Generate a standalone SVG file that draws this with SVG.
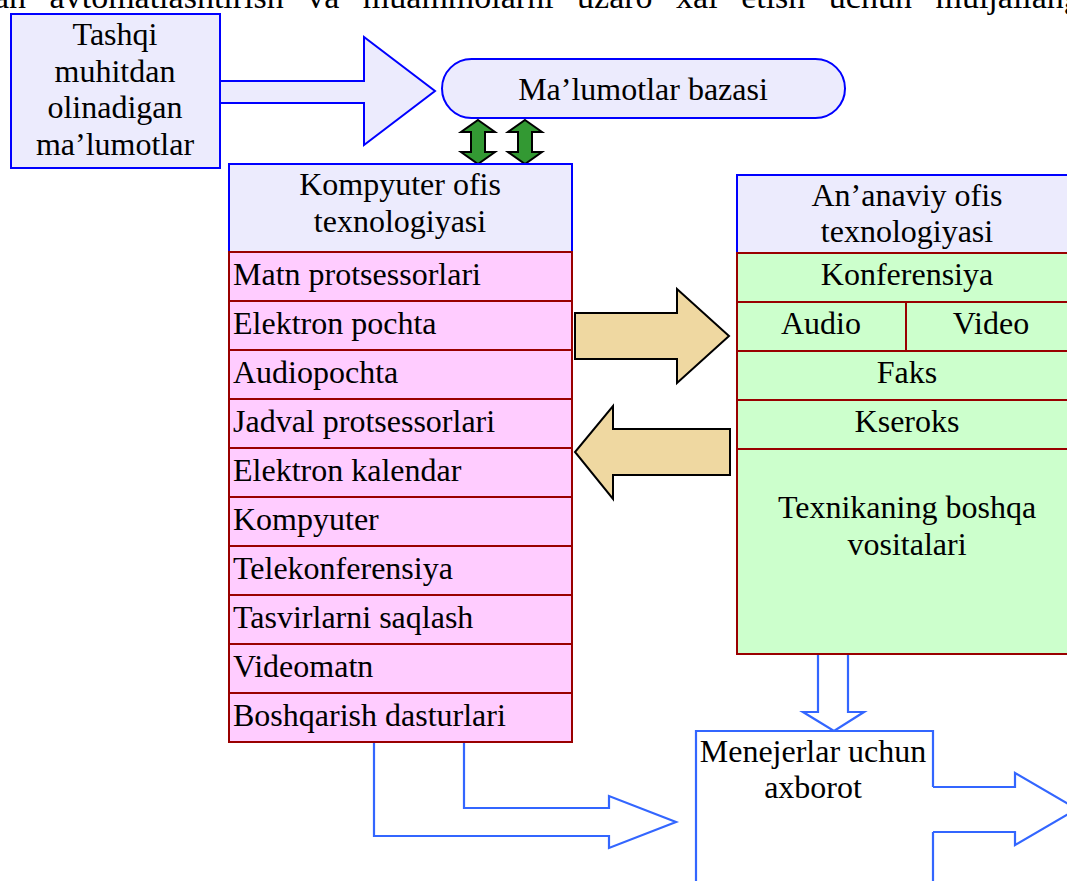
<svg xmlns="http://www.w3.org/2000/svg" width="1067" height="881" viewBox="0 0 1067 881">
  <style>
    text { font-family: "Liberation Serif", "Times New Roman", serif; font-size: 32px; fill: #000; }
    .c { text-anchor: middle; }
    .lav { fill: #ecebfd; stroke: #0000ff; stroke-width: 2; }
    .pink { fill: #ffccff; stroke: #990000; stroke-width: 2; }
    .grn { fill: #ccffcc; stroke: #990000; stroke-width: 2; }
    .blue { fill: #ffffff; stroke: #3366ff; stroke-width: 2.2; }
    .dbl { fill: #339933; stroke: #000; stroke-width: 2; stroke-linejoin: miter; }
    .tan { fill: #efd8a1; stroke: #000; stroke-width: 2; }
  </style>

  <!-- justified paragraph line running off the top edge -->
  <text x="-6" y="8" style="font-size:34px; word-spacing:15px">an avtomatlashtirish va muammolarni uzaro xal etish uchun muljallangan</text>

  <!-- connectors -->
  <g id="connectors">
    <path class="lav" d="M220,81 H364 V37 L435,91 L364,145 V103 H220"/>
    <polygon class="dbl" points="478,120 495,132 485,132 485,152 495,152 478,164 461,152 471,152 471,132 461,132"/>
    <polygon class="dbl" points="525,120 542,132 532,132 532,152 542,152 525,164 508,152 518,152 518,132 508,132"/>
    <polygon class="tan" points="575,313 677,313 677,289 729,336 677,383 677,359 575,359"/>
    <polygon class="tan" points="730,429 613,429 613,406 575,452 613,499 613,475 730,475"/>
    <polygon class="blue" points="374,742 374,836 609,836 609,848 676,822 609,796 609,808 464,808 464,742"/>
    <polygon class="blue" points="818,653 818,712 803,712 834,731 864,712 848,712 848,653"/>
    <path class="blue" d="M933,787 H1015 V773 L1077,809 L1015,845 V832 H933"/>
  </g>

  <!-- external data source -->
  <g id="tashqi">
    <rect class="lav" x="11" y="14" width="209" height="154"/>
    <text class="c" x="115" y="45">Tashqi</text>
    <text class="c" x="115" y="82">muhitdan</text>
    <text class="c" x="115" y="118">olinadigan</text>
    <text class="c" x="115" y="155">ma’lumotlar</text>
  </g>

  <!-- database -->
  <g id="baza">
    <rect class="lav" x="442" y="59" width="403" height="59" rx="29.5" ry="29.5"/>
    <text class="c" x="643" y="100">Ma’lumotlar bazasi</text>
  </g>

  <!-- computer office technology column -->
  <g id="kompyuter-ofis">
    <rect class="lav" x="229" y="164" width="343" height="88"/>
    <text class="c" x="400" y="195">Kompyuter ofis</text>
    <text class="c" x="400" y="232">texnologiyasi</text>
    <rect class="pink" x="229" y="252" width="343" height="49"/>
    <rect class="pink" x="229" y="301" width="343" height="49"/>
    <rect class="pink" x="229" y="350" width="343" height="49"/>
    <rect class="pink" x="229" y="399" width="343" height="49"/>
    <rect class="pink" x="229" y="448" width="343" height="49"/>
    <rect class="pink" x="229" y="497" width="343" height="49"/>
    <rect class="pink" x="229" y="546" width="343" height="49"/>
    <rect class="pink" x="229" y="595" width="343" height="49"/>
    <rect class="pink" x="229" y="644" width="343" height="49"/>
    <rect class="pink" x="229" y="693" width="343" height="49"/>
    <text x="233" y="285">Matn protsessorlari</text>
    <text x="233" y="334">Elektron pochta</text>
    <text x="233" y="383">Audiopochta</text>
    <text x="233" y="432">Jadval protsessorlari</text>
    <text x="233" y="481">Elektron kalendar</text>
    <text x="233" y="530">Kompyuter</text>
    <text x="233" y="579">Telekonferensiya</text>
    <text x="233" y="628">Tasvirlarni saqlash</text>
    <text x="233" y="677">Videomatn</text>
    <text x="233" y="726">Boshqarish dasturlari</text>
  </g>

  <!-- traditional office technology column -->
  <g id="ananaviy-ofis">
    <rect class="lav" x="737" y="175" width="340" height="78"/>
    <text class="c" x="907" y="206">An’anaviy ofis</text>
    <text class="c" x="907" y="242">texnologiyasi</text>
    <rect class="grn" x="737" y="253" width="340" height="49"/>
    <rect class="grn" x="737" y="302" width="169" height="49"/>
    <rect class="grn" x="906" y="302" width="171" height="49"/>
    <rect class="grn" x="737" y="351" width="340" height="49"/>
    <rect class="grn" x="737" y="400" width="340" height="49"/>
    <rect class="grn" x="737" y="449" width="340" height="205"/>
    <text class="c" x="907" y="285">Konferensiya</text>
    <text class="c" x="821" y="334">Audio</text>
    <text class="c" x="991" y="334">Video</text>
    <text class="c" x="907" y="383">Faks</text>
    <text class="c" x="907" y="432">Kseroks</text>
    <text class="c" x="907" y="518">Texnikaning boshqa</text>
    <text class="c" x="907" y="555">vositalari</text>
  </g>

  <!-- information for managers -->
  <g id="menejerlar">
    <path class="blue" d="M696,895 V731 H933 V787 M933,832 V895"/>
    <text class="c" x="813" y="762">Menejerlar uchun</text>
    <text class="c" x="813" y="798">axborot</text>
  </g>
</svg>
